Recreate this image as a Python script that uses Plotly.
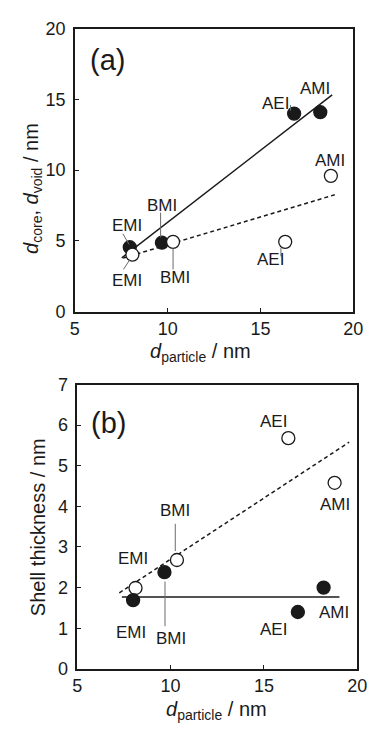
import plotly.graph_objects as go

# ---------------- data ----------------
samples = ["EMI", "BMI", "AEI", "AMI"]

# panel (a)
a_particle_core = [7.96, 9.69, 16.81, 18.22]
a_core = [4.55, 4.87, 14.0, 14.1]
a_particle_void = [8.1, 10.29, 16.33, 18.79]
a_void = [4.02, 4.93, 4.93, 9.6]
a_core_fit_x = [7.53, 18.86]
a_core_fit_y = [3.8, 15.33]
a_void_fit_x = [7.6, 19.0]
a_void_fit_y = [3.78, 8.26]

# panel (b)
b_particle_open = [8.12, 10.34, 16.31, 18.79]
b_shell_open = [1.99, 2.68, 5.68, 4.58]
b_particle_fill = [7.99, 9.67, 16.82, 18.2]
b_shell_fill = [1.69, 2.38, 1.4, 2.0]
b_fill_fit_x = [7.39, 19.05]
b_fill_fit_y = [1.77, 1.77]
b_open_fit_x = [7.25, 19.57]
b_open_fit_y = [1.87, 5.58]

# ---------------- label placement (data coords) ----------------
a_core_lab = [(7.79, 6.08), (9.69, 7.5), (15.81, 14.7), (17.95, 15.8)]
a_void_lab = [(7.79, 2.18), (10.38, 2.41), (15.55, 3.67), (18.74, 10.67)]
b_open_lab = [(7.99, 2.71), (10.22, 3.89), (15.54, 6.08), (18.79, 4.05)]
b_fill_lab = [(7.90, 0.89), (10.01, 0.75), (15.5, 0.97), (18.76, 1.39)]

# leader lines: (x0, y0, x1, y1, axis)
leaders = [
    (7.59, 5.5, 7.92, 4.75, "a"),
    (9.62, 7.0, 9.62, 5.25, "a"),
    (16.62, 14.2, 16.62, 14.6, "a"),
    (7.62, 2.98, 7.96, 3.67, "a"),
    (10.29, 4.47, 10.29, 2.98, "a"),
    (16.1, 3.9, 16.1, 4.5, "a"),
    (10.25, 3.57, 10.25, 2.9, "b"),
    (9.70, 2.15, 9.70, 1.05, "b"),
]

INK = "#1a1a1a"
FONT = "Liberation Sans, Arial, sans-serif"

fig = go.Figure()

def add_line(x, y, dash, xa, ya):
    fig.add_trace(go.Scatter(x=x, y=y, mode="lines", xaxis=xa, yaxis=ya,
                             line=dict(color=INK, width=1.5, dash=dash),
                             showlegend=False, hoverinfo="skip"))

def add_pts(x, y, filled, xa, ya):
    fig.add_trace(go.Scatter(x=x, y=y, mode="markers", xaxis=xa, yaxis=ya,
                             marker=dict(size=13, color=INK if filled else "white",
                                         line=dict(color=INK, width=1.3)),
                             showlegend=False))

add_line(a_core_fit_x, a_core_fit_y, "solid", "x", "y")
add_line(a_void_fit_x, a_void_fit_y, "4px,3px", "x", "y")
add_line(b_fill_fit_x, b_fill_fit_y, "solid", "x2", "y2")
add_line(b_open_fit_x, b_open_fit_y, "4px,3px", "x2", "y2")

for (x0, y0, x1, y1, ax) in leaders:
    xa, ya = ("x", "y") if ax == "a" else ("x2", "y2")
    fig.add_shape(type="line", x0=x0, y0=y0, x1=x1, y1=y1, xref=xa, yref=ya,
                  line=dict(color="#6b6b6b", width=1))

add_pts(a_particle_core, a_core, True, "x", "y")
add_pts(a_particle_void, a_void, False, "x", "y")
add_pts(b_particle_open, b_shell_open, False, "x2", "y2")
add_pts(b_particle_fill, b_shell_fill, True, "x2", "y2")

def labels(pos, xa, ya):
    for name, (lx, ly) in zip(samples, pos):
        fig.add_annotation(x=lx, y=ly, xref=xa, yref=ya, text=name, showarrow=False,
                           xanchor="center", yanchor="middle",
                           font=dict(size=17, color=INK, family=FONT))

labels(a_core_lab, "x", "y")
labels(a_void_lab, "x", "y")
labels(b_open_lab, "x2", "y2")
labels(b_fill_lab, "x2", "y2")

fig.add_annotation(x=6.77, y=17.8, xref="x", yref="y", text="(a)", showarrow=False,
                   xanchor="center", yanchor="middle",
                   font=dict(size=29, color=INK, family=FONT))
fig.add_annotation(x=6.66, y=6.04, xref="x2", yref="y2", text="(b)", showarrow=False,
                   xanchor="center", yanchor="middle",
                   font=dict(size=29, color=INK, family=FONT))

W, H = 379, 734
def px(xp): return xp / W
def py(yp): return 1 - yp / H

title_font = dict(size=20, color=INK, family=FONT)
def title(x, y, text, angle=0):
    fig.add_annotation(x=px(x), y=py(y), xref="paper", yref="paper", showarrow=False,
                       xanchor="center", yanchor="middle", textangle=angle,
                       text=text, font=title_font)

title(204, 352, "<i>d</i><sub>particle</sub> / nm")
title(220, 720, "<i>d</i><sub>particle</sub> / nm")
title(28, 183, "<i>d</i><sub>core</sub>, <i>d</i><sub>void</sub> / nm", -90)
title(34, 532, "Shell thickness / nm", -90)

axis_common = dict(showgrid=False, zeroline=False, showline=True, linecolor=INK,
                   linewidth=1.5, mirror=True, ticks="inside", ticklen=4,
                   tickwidth=1, tickcolor=INK,
                   tickfont=dict(size=18, color=INK, family=FONT))

fig.update_layout(
    width=W, height=H, margin=dict(l=0, r=0, t=0, b=0),
    paper_bgcolor="white", plot_bgcolor="white",
    xaxis=dict(domain=[px(72.7), px(362.7)], range=[5, 20], tickvals=[5, 10, 15, 20],
               anchor="y", **axis_common),
    yaxis=dict(domain=[py(310), py(19.3)], range=[0, 20], tickvals=[0, 5, 10, 15, 20],
               anchor="x", ticklabelstandoff=4, **axis_common),
    xaxis2=dict(domain=[px(75.3), px(366.7)], range=[5, 20], tickvals=[5, 10, 15, 20],
                anchor="y2", **axis_common),
    yaxis2=dict(domain=[py(677.3), py(385)], range=[0, 7], tickvals=list(range(8)),
                anchor="x2", ticklabelstandoff=4, **axis_common),
)

fig.write_html("out.html")
